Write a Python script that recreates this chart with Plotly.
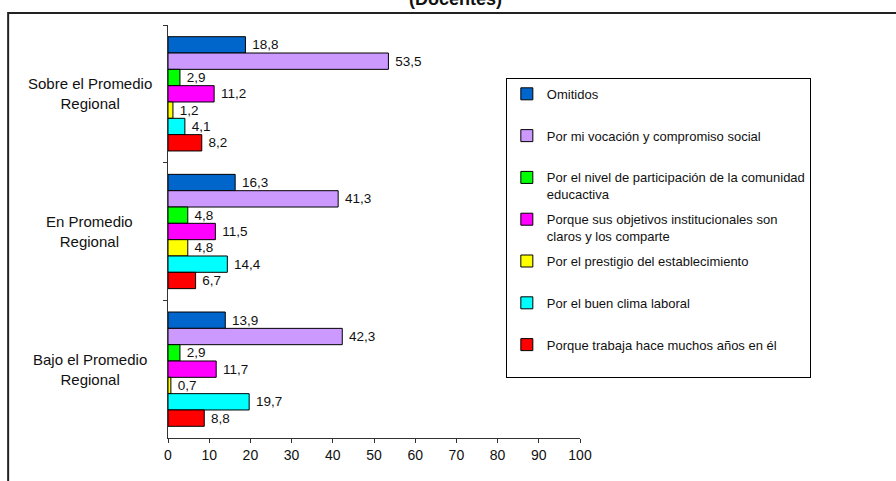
import plotly.graph_objects as go

# Categories (top to bottom) and reasons (legend order)
categories = ["Sobre el Promedio Regional", "En Promedio Regional", "Bajo el Promedio Regional"]
category_labels = ["Sobre el Promedio<br>Regional", "En Promedio<br>Regional", "Bajo el Promedio<br>Regional"]

reasons = [
    "Omitidos",
    "Por mi vocación y compromiso social",
    "Por el nivel de participación de la comunidad<br>educactiva",
    "Porque sus objetivos institucionales son<br>claros y los comparte",
    "Por el prestigio del establecimiento",
    "Por el buen clima laboral",
    "Porque trabaja hace muchos años en él",
]

# Percentages per reason, in category order
omitidos = [18.8, 16.3, 13.9]
vocacion = [53.5, 41.3, 42.3]
participacion = [2.9, 4.8, 2.9]
objetivos = [11.2, 11.5, 11.7]
prestigio = [1.2, 4.8, 0.7]
clima = [4.1, 14.4, 19.7]
antiguedad = [8.2, 6.7, 8.8]

series = [omitidos, vocacion, participacion, objetivos, prestigio, clima, antiguedad]
colors = ["#0066CC", "#CC99FF", "#00FF00", "#FF00FF", "#FFFF00", "#00FFFF", "#FF0000"]

x_ticks = list(range(0, 101, 10))

FONT = "Arial, Liberation Sans, sans-serif"

fig = go.Figure()
for i, (name, vals, col) in enumerate(zip(reasons, series, colors)):
    legend_name = name if "<br>" in name else name + "<br> "
    fig.add_trace(go.Bar(
        y=categories,
        x=vals,
        orientation="h",
        name=legend_name,
        legendgroup=f"g{i}",
        marker=dict(color=col, line=dict(color="black", width=1)),
        text=["\u00a0" + f"{v:.1f}".replace(".", ",") for v in vals],
        textposition="outside",
        constraintext="none",
        cliponaxis=False,
        textfont=dict(family=FONT, size=13.5, color="#111"),
    ))

# Centered category labels placed on the category axis
for cat, lab in zip(categories, category_labels):
    fig.add_annotation(
        x=-0.19, xref="paper", y=cat, yref="y",
        text=lab, showarrow=False, align="center",
        xanchor="center", yanchor="middle",
        font=dict(family=FONT, size=15, color="#111"),
    )

# Title, partially above the frame
fig.add_annotation(
    x=0.697, xref="paper", y=1.062, yref="paper",
    text="<b>(Docentes)</b>", showarrow=False,
    xanchor="center", yanchor="middle",
    font=dict(family=FONT, size=18, color="#111"),
)

# Outer frame
fig.add_shape(
    type="rect", xref="paper", yref="paper",
    x0=-0.388, x1=2.0, y0=-0.5, y1=1.029,
    line=dict(color="#222", width=2), fillcolor="rgba(0,0,0,0)",
    layer="below",
)

fig.update_layout(
    width=896, height=481,
    margin=dict(l=168, r=316, t=25, b=43),
    paper_bgcolor="white", plot_bgcolor="white",
    barmode="group", bargap=0.17, bargroupgap=0,
    showlegend=True,
    legend=dict(
        x=0.82, y=0.872, xanchor="left", yanchor="top",
        bordercolor="black", borderwidth=1, bgcolor="white",
        font=dict(family=FONT, size=13, color="#111"),
        valign="top", tracegroupgap=5,
        itemclick=False, itemdoubleclick=False,
    ),
    xaxis=dict(
        range=[0, 100], tickvals=x_ticks, showgrid=False, zeroline=False,
        showline=True, linecolor="#333", linewidth=1,
        ticks="outside", ticklen=4, tickcolor="#333",
        tickfont=dict(family=FONT, size=14, color="#111"),
    ),
    yaxis=dict(
        autorange="reversed", showgrid=False, zeroline=False,
        showline=True, linecolor="#333", linewidth=1,
        ticks="outside", ticklen=4, tickcolor="#333",
        tickson="boundaries", showticklabels=False,
    ),
)

fig.write_html("out.html")
